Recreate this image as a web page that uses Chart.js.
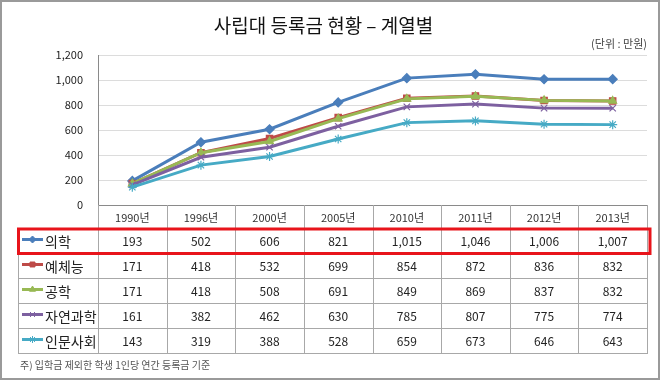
<!DOCTYPE html>
<html>
<head>
<meta charset="utf-8">
<script src="https://cdn.jsdelivr.net/npm/chart.js@4.4.0/dist/chart.umd.min.js"></script>
<style>
html,body{margin:0;padding:0;background:#fff;}
canvas{display:block;}
</style>
</head>
<body>
<canvas id="c" width="660" height="380"></canvas>
<script>
const categories = ['1990년','1996년','2000년','2005년','2010년','2011년','2012년','2013년'];
const seriesNames = ['의학','예체능','공학','자연과학','인문사회'];
const medicine = [193,502,606,821,1015,1046,1006,1007];
const arts = [171,418,532,699,854,872,836,832];
const engineering = [171,418,508,691,849,869,837,832];
const science = [161,382,462,630,785,807,775,774];
const humanities = [143,319,388,528,659,673,646,643];
const yTicks = [0,200,400,600,800,1000,1200];
const titleText = '사립대 등록금 현황 – 계열별';
const unitText = '(단위 : 만원)';
const noteText = '주) 입학금 제외한 학생 1인당 연간 등록금 기준';

const seriesValues = [medicine, arts, engineering, science, humanities];
const colors = ['#4A7EBB','#BE4B48','#98B954','#7D60A0','#46AAC5'];
const markerFill = ['#4A7EBB','#BE4B48','#98B954','#7D60A0','#46AAC5'];
const styles = ['rectRot','rect','triangle','crossRot','star'];
const FONT = '"Noto Sans CJK KR", "Noto Sans", sans-serif';

const fmt = v => v.toLocaleString('en-US');

const framePlugin = {
  id: 'frame',
  beforeDraw(chart) {
    const ctx = chart.ctx;
    ctx.save();
    ctx.fillStyle = '#fff';
    ctx.fillRect(0, 0, chart.width, chart.height);
    ctx.restore();
  },
  afterDraw(chart) {
    const ctx = chart.ctx;
    ctx.save();
    ctx.strokeStyle = '#9a9a9a';
    ctx.lineWidth = 2;
    ctx.strokeRect(1, 1, chart.width - 2, chart.height - 2);
    ctx.restore();
  }
};

const tablePlugin = {
  id: 'dataTable',
  afterDraw(chart) {
    const ctx = chart.ctx;
    const area = chart.chartArea;
    const xs = chart.scales.x;
    const n = categories.length;
    const colW = (area.right - area.left) / n;
    const tableLeft = 18;
    const top = area.bottom;
    const headerH = 23;
    const rowH = 25;
    const bodyTop = top + headerH;
    const bottom = bodyTop + rowH * seriesNames.length;

    ctx.save();
    ctx.strokeStyle = '#a8a8a8';
    ctx.lineWidth = 1;
    ctx.beginPath();
    for (let i = 0; i <= n; i++) {
      const xx = Math.round(area.left + i * colW) + 0.5;
      ctx.moveTo(xx, top);
      ctx.lineTo(xx, bottom);
    }
    ctx.moveTo(tableLeft + 0.5, bodyTop);
    ctx.lineTo(tableLeft + 0.5, bottom);
    for (let r = 0; r <= seriesNames.length; r++) {
      const yy = Math.round(bodyTop + r * rowH) + 0.5;
      ctx.moveTo(tableLeft, yy);
      ctx.lineTo(area.right + 1, yy);
    }
    ctx.stroke();

    // header labels
    ctx.fillStyle = '#333';
    ctx.textAlign = 'center';
    ctx.textBaseline = 'middle';
    ctx.font = '11px ' + FONT;
    categories.forEach((c, i) => {
      ctx.fillText(c, xs.getPixelForValue(i), top + headerH / 2 + 1);
    });

    // rows
    seriesNames.forEach((name, r) => {
      const cy = bodyTop + r * rowH + rowH / 2;
      ctx.strokeStyle = colors[r];
      ctx.lineWidth = 3;
      ctx.beginPath();
      ctx.moveTo(22, cy - 1);
      ctx.lineTo(43, cy - 1);
      ctx.stroke();
      ctx.fillStyle = markerFill[r];
      ctx.strokeStyle = colors[r];
      ctx.lineWidth = 1;
      Chart.helpers.drawPoint(ctx, {pointStyle: styles[r], radius: 3.5, rotation: 0, borderWidth: 1}, 32.5, cy - 1);
      ctx.fillStyle = '#222';
      ctx.textAlign = 'left';
      ctx.font = '14px ' + FONT;
      ctx.fillText(name, 45, cy + 1);
      ctx.textAlign = 'center';
      ctx.font = '12px ' + FONT;
      seriesValues[r].forEach((v, i) => {
        ctx.fillText(fmt(v), xs.getPixelForValue(i), cy + 1);
      });
    });

    // highlight box
    ctx.strokeStyle = '#E8141B';
    ctx.lineWidth = 3;
    ctx.strokeRect(18.5, bodyTop + 1, area.right + 3 - 18.5, rowH - 0.5);

    // footnote
    ctx.fillStyle = '#555';
    ctx.textAlign = 'left';
    ctx.font = '10px ' + FONT;
    ctx.fillText(noteText, 20, bottom + 12);
    ctx.restore();
  }
};

new Chart(document.getElementById('c'), {
  type: 'line',
  data: {
    labels: categories,
    datasets: seriesNames.map((name, i) => ({
      label: name,
      data: seriesValues[i],
      order: seriesNames.length - i,
      borderColor: colors[i],
      backgroundColor: markerFill[i],
      borderWidth: 3,
      pointStyle: styles[i],
      pointRadius: 4.5,
      pointBorderWidth: 1.2,
      pointBorderColor: colors[i],
      pointBackgroundColor: markerFill[i],
      tension: 0,
      fill: false
    }))
  },
  options: {
    responsive: false,
    animation: false,
    locale: 'en-US',
    devicePixelRatio: 1,
    layout: {padding: {left: 0, right: 13, top: 0, bottom: 175}},
    plugins: {
      legend: {display: false},
      tooltip: {enabled: false},
      title: {
        display: true,
        text: titleText,
        color: '#111',
        font: {family: FONT, size: 19, weight: 'normal'},
        padding: {top: 14, bottom: 0}
      },
      subtitle: {
        display: true,
        text: unitText,
        align: 'end',
        color: '#444',
        font: {family: FONT, size: 11, weight: 'normal'},
        padding: {top: 0, bottom: 5}
      }
    },
    scales: {
      x: {
        offset: true,
        grid: {display: false},
        border: {display: true, color: '#8a8a8a', width: 1},
        ticks: {display: false},
        afterFit: s => { s.height = 0; }
      },
      y: {
        min: 0,
        max: 1200,
        afterBuildTicks: s => { s.ticks = yTicks.map(v => ({value: v})); },
        grid: {color: '#dcdcdc', drawTicks: false},
        border: {display: true, color: '#8a8a8a', width: 1},
        ticks: {
          padding: 15,
          color: '#222',
          font: {family: FONT, size: 11},
          callback: v => fmt(v)
        },
        afterFit: s => { s.width = 98; }
      }
    }
  },
  plugins: [framePlugin, tablePlugin]
});
</script>
</body>
</html>
